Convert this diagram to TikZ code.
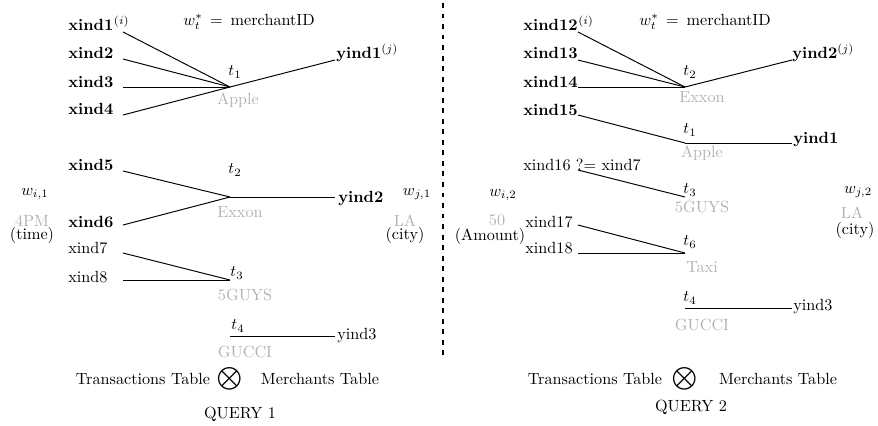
\documentclass[tikz,border=0pt]{standalone}
\usepackage{amsmath}
\usetikzlibrary{positioning,calc}

\begin{document}
\begin{tikzpicture}[x=0.0217cm,y=-0.0217cm,
        link/.style={line width=0.6pt},
        merch/.style={text=gray!60},
        xlab/.style={anchor=base west, inner sep=0pt},
        attr/.style={anchor=base, inner sep=0pt}]
        \useasboundingbox (0,0) rectangle (878,425);

        % Query 1: transactions
        \foreach \i/\y in {1/30,2/58,3/87,4/114,5/170,6/227}
        \node[xlab] (xa\i) at (68,\y) {\textbf{xind\i}};
        \node[anchor=base west, inner sep=0pt] at (xa1.base east) {$^{(i)}$};
        \foreach \i/\y in {7/253,8/282}
        \node[xlab] (xa\i) at (68,\y) {xind\i};
        \foreach \i/\y in {1/32,2/59,3/87,4/115,5/171,6/225,7/253,8/280}
        \coordinate (sa\i) at (123,\y);

        % Query 1: merchants
        \coordinate (ja1) at (230,87);
        \coordinate (ja2) at (230,197);
        \coordinate (ja3) at (230,280);
        \coordinate (ja4) at (230,336);
        \node (ta1) at (235,72) {$t_1$};
        \node[merch] (ma1) at (238,100) {Apple};
        \node (ta2) at (235,170) {$t_2$};
        \node[merch] (ma2) at (240,212) {Exxon};
        \node (ta3) at (237,273) {$t_3$};
        \node[merch] (ma3) at (245,295) {5GUYS};
        \node (ta4) at (238,326) {$t_4$};
        \node[merch, inner sep=1pt] (ma4) at (245,352) {GUCCI};

        \node[xlab] (ya1) at (336,58) {\textbf{yind1}$^{(j)}$};
        \node[xlab] (ya2) at (338,202) {\textbf{yind2}};
        \node[xlab] (ya3) at (337,339) {yind3};
        \coordinate (ea1) at (335,60);
        \coordinate (ea2) at (335,197);
        \coordinate (ea3) at (335,336);

        \foreach \i in {1,2,3,4}
        \draw[link] (sa\i) -- (ja1);
        \foreach \i in {5,6}
        \draw[link] (sa\i) -- (ja2);
        \foreach \i in {7,8}
        \draw[link] (sa\i) -- (ja3);
        \draw[link] (ja1) -- (ea1);
        \draw[link] (ja2) -- (ea2);
        \draw[link] (ja4) -- (ea3);

        \node (wa) at (249,22) {$w_t^* \,=\,$ merchantID};
        \node (wia) at (35,194) {$w_{i,1}$};
        \node[attr, merch] (via) at (32,226) {4PM};
        \node[attr] (nia) at (32,239) {(time)};
        \node (wja) at (417,194) {$w_{j,1}$};
        \node[attr, merch] (vja) at (405,226) {LA};
        \node[attr] (nja) at (405,239) {(city)};

        \node (tta) at (143,379) {Transactions Table};
        \node[inner sep=0pt] (joina) at (230,379) {$\displaystyle\bigotimes$};
        \node (mta) at (320,379) {Merchants Table};
        \node (qa) at (240,414) {QUERY 1};

        % separator
        \draw[line width=1.2pt, dash pattern=on 3pt off 3.5pt] (443,3) -- (443,355);

        % Query 2: transactions
        \foreach \i/\y in {12/30,13/58,14/87,15/115}
        \node[xlab] (xb\i) at (523,\y) {\textbf{xind\i}};
        \node[anchor=base west, inner sep=0pt] at (xb12.base east) {$^{(i)}$};
        \node[xlab] (xb16) at (523,170) {xind16 ?= xind7};
        \foreach \i/\y in {17/227,18/253}
        \node[xlab] (xb\i) at (525,\y) {xind\i};
        \foreach \i/\y in {12/32,13/60,14/87,15/115,16/170,17/225,18/253}
        \coordinate (sb\i) at (578,\y);

        % Query 2: merchants
        \foreach \i/\y in {1/87,2/143,3/197,4/253,5/308}
        \coordinate (jb\i) at (685,\y);
        \node (tb1) at (690,72) {$t_2$};
        \node[merch] (mb1) at (702,97) {Exxon};
        \node (tb2) at (690,130) {$t_1$};
        \node[merch] (mb2) at (702,153) {Apple};
        \node (tb3) at (690,190) {$t_3$};
        \node[merch] (mb3) at (702,207) {5GUYS};
        \node (tb4) at (690,242) {$t_6$};
        \node[merch] (mb4) at (702,267) {Taxi};
        \node (tb5) at (690,298) {$t_4$};
        \node[merch] (mb5) at (702,325) {GUCCI};

        \node[xlab] (yb2) at (792,58) {\textbf{yind2}$^{(j)}$};
        \node[xlab] (yb1) at (793,143) {\textbf{yind1}};
        \node[xlab] (yb3) at (793,310) {yind3};
        \coordinate (eb2) at (792,60);
        \coordinate (eb1) at (792,143);
        \coordinate (eb3) at (792,308);

        \foreach \i in {12,13,14}
        \draw[link] (sb\i) -- (jb1);
        \draw[link] (sb15) -- (jb2);
        \draw[link] (sb16) -- (jb3);
        \foreach \i in {17,18}
        \draw[link] (sb\i) -- (jb4);
        \draw[link] (jb1) -- (eb2);
        \draw[link] (jb2) -- (eb1);
        \draw[link] (jb5) -- (eb3);

        \node (wb) at (705,22) {$w_t^* \,=\,$ merchantID};
        \node (wib) at (503,195) {$w_{i,2}$};
        \node[attr, merch] (vib) at (497,225) {50};
        \node[attr] (nib) at (490,240) {(Amount)};
        \node (wjb) at (858,192) {$w_{j,2}$};
        \node[attr, merch] (vjb) at (852,218) {LA};
        \node[attr] (njb) at (855,234) {(city)};

        \node (ttb) at (595,379) {Transactions Table};
        \node[inner sep=0pt] (joinb) at (685,379) {$\displaystyle\bigotimes$};
        \node (mtb) at (778,379) {Merchants Table};
        \node (qb) at (691,407) {QUERY 2};

    \end{tikzpicture}
\end{document}
